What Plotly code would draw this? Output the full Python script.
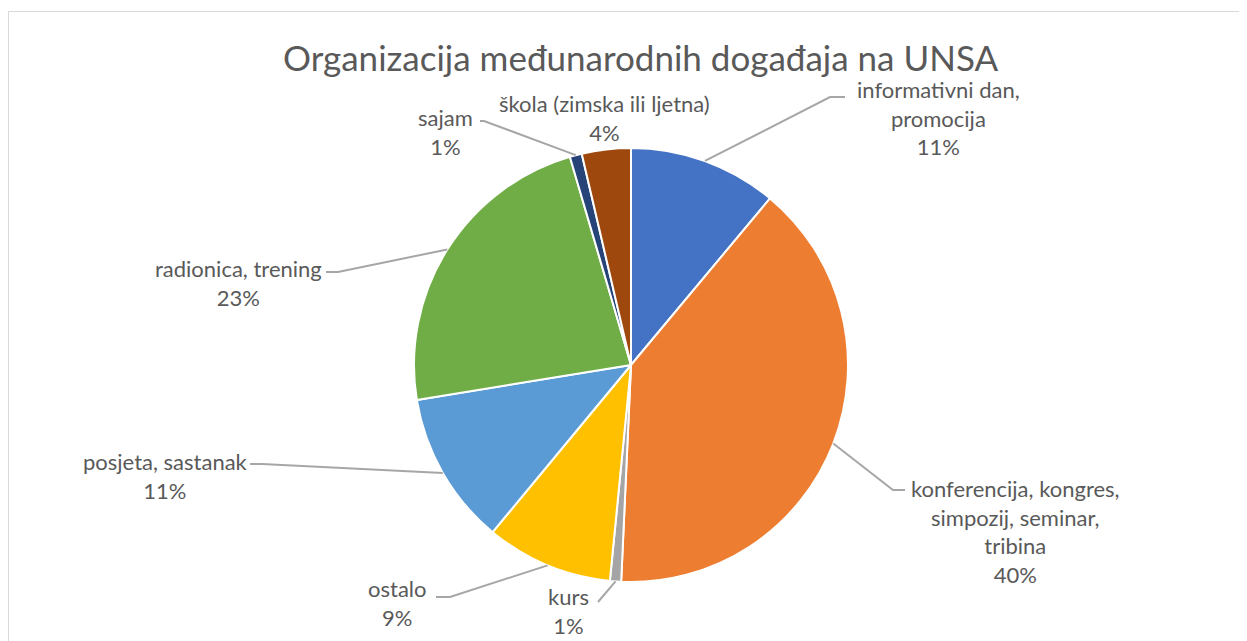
import math
import plotly.graph_objects as go

# ---- data ----
categories = [
    "informativni dan,<br>promocija",
    "konferencija, kongres,<br>simpozij, seminar,<br>tribina",
    "kurs",
    "ostalo",
    "posjeta, sastanak",
    "radionica, trening",
    "sajam",
    "škola (zimska ili ljetna)",
]
shares = [11.05, 39.6, 0.83, 9.44, 11.4, 23.0, 0.9, 3.64]
colors = ["#4472C4", "#ED7D31", "#A5A5A5", "#FFC000", "#5B9BD5", "#70AD47", "#264478", "#9E480E"]
title_text = "Organizacija međunarodnih događaja na UNSA"

# ---- layout (pixels) ----
W, H = 1247, 641
OFF = 8  # browser body margin
CX, CY, R = 631, 365, 217
FONT = "Lato"
TXT = "#595959"
LEAD = "#A6A6A6"

# label text centre (px), elbow point (px), horizontal end (px) or None
label_layout = [
    dict(tx=938, ty=118, elbow=(830, 97), end=(845, 97)),
    dict(tx=1015, ty=531, elbow=(893, 490), end=(905, 490)),
    dict(tx=568, ty=611, elbow=(598, 602), end=None),
    dict(tx=397, ty=603, elbow=(450, 597), end=(436, 597)),
    dict(tx=165, ty=476, elbow=(262, 464), end=(250, 464)),
    dict(tx=238, ty=283, elbow=(338, 272), end=(326, 272)),
    dict(tx=445, ty=132, elbow=(484, 121), end=(480, 121)),
    dict(tx=604, ty=118, elbow=None, end=None),
]


def px(x):
    return (x - OFF) / W


def py(y):
    return 1 - (y - OFF) / H


fig = go.Figure()
fig.add_trace(go.Pie(
    labels=categories,
    values=shares,
    sort=False,
    direction="clockwise",
    rotation=0,
    marker=dict(colors=colors, line=dict(color="white", width=2)),
    textinfo="none",
    hoverinfo="label+percent",
    showlegend=False,
    domain=dict(x=[px(CX - R), px(CX + R)], y=[py(CY + R), py(CY - R)]),
))

total = sum(shares)
shapes = []
annotations = []
cum = 0.0
for cat, val, lay in zip(categories, shares, label_layout):
    mid = (cum + val / 2) / total * 2 * math.pi
    cum += val
    pct = round(val / total * 100)
    ex = CX + R * math.sin(mid)
    ey = CY - R * math.cos(mid)
    if lay["elbow"] is not None:
        pts = [(ex, ey), lay["elbow"]]
        if lay["end"] is not None:
            pts.append(lay["end"])
        path = "M " + " L ".join(f"{px(a)},{py(b)}" for a, b in pts)
        shapes.append(dict(type="path", xref="paper", yref="paper", path=path,
                           line=dict(color=LEAD, width=2)))
    annotations.append(dict(
        x=px(lay["tx"]), y=py(lay["ty"]), xref="paper", yref="paper",
        text=f"{cat}<br>{pct}%", showarrow=False, xanchor="center", yanchor="middle",
        align="center", font=dict(family=FONT, size=22, color=TXT),
    ))

# chart border
shapes.append(dict(type="rect", xref="paper", yref="paper",
                   x0=px(8.5), y0=py(11.5), x1=1.02, y1=-0.02,
                   line=dict(color="#D9D9D9", width=1), fillcolor="rgba(0,0,0,0)"))

annotations.append(dict(
    x=px(640), y=py(57), xref="paper", yref="paper", text=title_text,
    showarrow=False, xanchor="center", yanchor="middle",
    font=dict(family=FONT, size=35, color=TXT),
))

fig.update_layout(
    width=W, height=H,
    margin=dict(l=0, r=0, t=0, b=0),
    paper_bgcolor="white",
    plot_bgcolor="white",
    shapes=shapes,
    annotations=annotations,
)

fig.write_html("out.html")
